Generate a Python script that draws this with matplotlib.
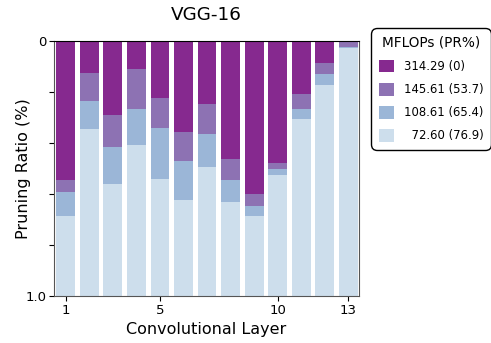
import matplotlib
matplotlib.use("Agg")
import matplotlib.pyplot as plt
import numpy as np

layers = list(range(1, 14))
series_labels = ["314.29 (0)", "145.61 (53.7)", "108.61 (65.4)", "  72.60 (76.9)"]
# boundary values (on the inverted 0..1 axis) for each model's bar
pr_314 = [0.0] * 13
pr_145 = [0.545, 0.125, 0.290, 0.110, 0.224, 0.357, 0.247, 0.463, 0.600, 0.478, 0.208, 0.086, 0.004]
pr_108 = [0.592, 0.235, 0.416, 0.267, 0.341, 0.471, 0.365, 0.545, 0.647, 0.502, 0.267, 0.129, 0.024]
pr_72 = [0.686, 0.345, 0.561, 0.408, 0.541, 0.624, 0.494, 0.631, 0.686, 0.525, 0.306, 0.173, 0.027]
colors = ["#86298f", "#8d72b3", "#9bb6d7", "#cddeec"]
xticks = [1, 5, 10, 13]

fig = plt.figure(figsize=(4.91, 3.43), dpi=100)
ax = fig.add_axes([0.110, 0.137, 0.621, 0.743])

for vals, c, lab in zip([pr_314, pr_145, pr_108, pr_72], colors, series_labels):
    v = np.array(vals)
    ax.bar(layers, 1.0 - v, bottom=v, width=0.8, color=c, label=lab, linewidth=0)

ax.set_ylim(1.0, 0.0)
ax.set_xlim(0.5, 13.45)
ax.set_yticks([0, 0.2, 0.4, 0.6, 0.8, 1.0])
ax.set_yticklabels(["0", "", "", "", "", "1.0"])
ax.set_xticks(xticks)
ax.set_xticklabels([str(t) for t in xticks])
ax.tick_params(labelsize=9.5, length=3.5, pad=2)
ax.set_xlabel("Convolutional Layer", fontsize=11.5, labelpad=3.5)
ax.set_ylabel("Pruning Ratio (%)", fontsize=11.5, labelpad=-4)
ax.set_title("VGG-16", fontsize=13.2, pad=15)
for s in ax.spines.values():
    s.set_color("#555555")
ax.spines["top"].set_color("black")

leg = ax.legend(loc="upper left", bbox_to_anchor=(0.756, 0.918), bbox_transform=fig.transFigure,
                title="MFLOPs (PR%)", fontsize=8.4, title_fontsize=9.8,
                handlelength=1.3, handleheight=1.3, labelspacing=0.85, handletextpad=0.85,
                borderpad=0.65,
                fancybox=True, framealpha=1, edgecolor="black", borderaxespad=0)
leg.get_frame().set_linewidth(1.0)
leg.get_frame().set_boxstyle("round,pad=0,rounding_size=0.5")

fig.savefig("out.png", dpi=100)
